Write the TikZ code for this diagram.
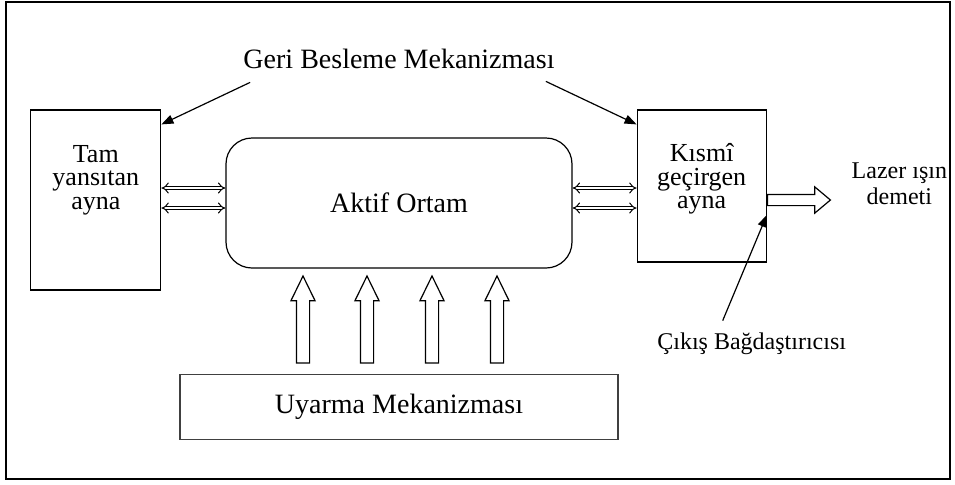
\documentclass[tikz,border=0pt]{standalone}
\usepackage{fontspec}
\setmainfont{Liberation Serif}
\usetikzlibrary{arrows.meta,positioning,shapes.arrows}

\begin{document}
\begin{tikzpicture}[
    x=1pt,y=1pt,
    node distance=32pt,
    box/.style={draw,line width=0.6pt,inner sep=0pt},
    big/.style={inner sep=0pt,font=\fontsize{14}{16}\selectfont},
    txt/.style={inner sep=0pt,align=center,font=\fontsize{13}{11.8}\selectfont},
    note/.style={inner sep=0pt,align=center,font=\fontsize{12}{13}\selectfont},
    link/.style={double,double distance=1.4pt,line width=0.5pt,{Implies}-{Implies}},
    pump/.style={single arrow,draw,line width=0.6pt,inner sep=3pt,minimum height=43.5pt,minimum width=11.5pt,single arrow head extend=2.75pt,single arrow tip angle=52,shape border rotate=90},
    beam/.style={single arrow,draw,line width=0.6pt,inner sep=2.5pt,minimum height=31.5pt,minimum width=12.5pt,single arrow head extend=3.75pt,single arrow tip angle=80},
    arrow/.style={-{Triangle[length=6pt,width=4.5pt]},line width=0.6pt}
  ]
  \useasboundingbox (0,0) rectangle (477.5,-242);
  \draw[line width=1.3pt] (3,-1) rectangle (475,-239.5);

  % boxes
  \node[box,big,rounded corners=13pt,minimum width=173pt,minimum height=65pt] (ak) at (199.5,-101.5) {Aktif Ortam};
  \node[box,minimum width=65pt,minimum height=90pt,left=of ak,yshift=1.5pt] (tam) {};
  \node[box,minimum width=64.5pt,minimum height=76pt,right=of ak,yshift=8.5pt] (kg) {};
  \node[box,big,draw=black!75,minimum width=219pt,minimum height=32.5pt,below=52.5pt of ak] (uy) {Uyarma Mekanizması};
  \node[txt] (tamtxt) at ([yshift=10pt]tam.center) {Tam\\yansıtan\\ayna};
  \node[txt] (kgtxt) at ([yshift=3.5pt]kg.center) {Kısmî\\geçirgen\\ayna};

  % pumping and output
  \foreach \i/\dx in {1/-48,2/-16,3/16.5,4/49}
    \node[pump,anchor=tail] (pump\i) at ([xshift=\dx pt,yshift=5pt]uy.north) {};
  \node[beam,anchor=tail] (out) at ([yshift=-7pt]kg.east) {};
  \foreach \dy in {7.5,-2.5} {
    \draw[link] ([yshift=\dy pt]ak.west -| tam.east) -- ([yshift=\dy pt]ak.west);
    \draw[link] ([yshift=\dy pt]ak.east) -- ([yshift=\dy pt]ak.east -| kg.west);
  }

  % labels
  \node[big,above=34pt of ak] (geri) {Geri Besleme Mekanizması};
  \node[note,right=10pt of out.tip,yshift=8pt] (lazer) {Lazer ışın\\demeti};
  \node[note,below=35pt of kg.south,xshift=25pt] (cikis) {Çıkış Bağdaştırıcısı};
  \coordinate (gl) at ([xshift=3.5pt,yshift=-6.5pt]geri.south west);
  \coordinate (gr) at ([xshift=-4.5pt,yshift=-6pt]geri.south east);
  \coordinate (cb) at ([xshift=-14.5pt,yshift=6pt]cikis.north);
  \draw[arrow] (gl) -- ([yshift=-7.5pt]tam.north east);
  \draw[arrow] (gr) -- ([yshift=-7.5pt]kg.north west);
  \draw[arrow] (cb) -- ([yshift=-14.5pt]kg.east);
\end{tikzpicture}
\end{document}
